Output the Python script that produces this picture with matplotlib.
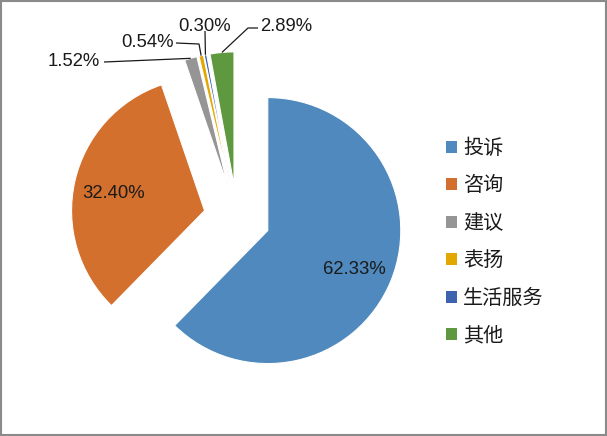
import matplotlib
matplotlib.use("Agg")
import matplotlib.pyplot as plt
from matplotlib.patches import Rectangle
import numpy as np

categories = ["投诉", "咨询", "建议", "表扬", "生活服务", "其他"]
values = [62.33, 32.40, 1.52, 0.54, 0.30, 2.89]
pct_labels = ["62.33%", "32.40%", "1.52%", "0.54%", "0.30%", "2.89%"]
colors = ["#4F89BD", "#D4702D", "#959595", "#E2A700", "#3D63AE", "#5F993F"]

W, H, DPI = 607, 436, 100
fig = plt.figure(figsize=(W / DPI, H / DPI), dpi=DPI)
fig.patch.set_facecolor("white")

R = 133.0  # px per data unit
cx, cy = 237.0, 218.0
ax = fig.add_axes([0, 0, 1, 1])

explode = [0.25] * len(values)
wedges, _ = ax.pie(values, explode=explode, colors=colors, startangle=90,
                   counterclock=False, radius=1.0,
                   wedgeprops=dict(edgecolor="white", linewidth=0.8))
ax.set_aspect("auto")
ax.set_xlim(-cx / R, (W - cx) / R)
ax.set_ylim(-(H - cy) / R, cy / R)
ax.axis("off")

pct_font = dict(family=["Liberation Sans", "DejaVu Sans"], fontsize=13.3, color="#1a1a1a")
dy_txt = -3.5 / R  # visual centering offset

def mid_dir(w):
    a = np.deg2rad((w.theta1 + w.theta2) / 2)
    return np.cos(a), np.sin(a)

def px(x, y):
    return ((x - cx) / R, (cy - y) / R)

# inside labels for large slices
for i in (0, 1):
    dx, dy = mid_dir(wedges[i])
    ox, oy = wedges[i].center
    ax.text(ox + 0.7 * dx, oy + 0.7 * dy + dy_txt, pct_labels[i],
            ha="center", va="center", **pct_font)

# outside labels with leader lines (text positions & elbow points are layout)
layout = {
    2: dict(text=(74, 58), path=[(104, 62)]),
    3: dict(text=(147, 39), path=[(176, 43), (199, 44)]),
    4: dict(text=(205, 23), path=[(205, 31)]),
    5: dict(text=(286, 23), path=[(258, 28), (248, 28)]),
}
for i, lay in layout.items():
    dx, dy = mid_dir(wedges[i])
    ox, oy = wedges[i].center
    edge = (ox + 1.0 * dx, oy + 1.0 * dy)
    pts = [px(*p) for p in lay["path"]] + [edge]
    xs, ys = zip(*pts)
    ax.plot(xs, ys, color="#1a1a1a", lw=0.9, solid_capstyle="butt")
    tx, ty = px(*lay["text"])
    ax.text(tx, ty + dy_txt, pct_labels[i], ha="center", va="center", **pct_font)

leg = fig.legend(wedges, categories, loc="center left",
                 bbox_to_anchor=(446 / W, 1 - 242 / H), frameon=False,
                 prop=dict(family=["Noto Sans CJK SC", "DejaVu Sans"], size=14.5),
                 handlelength=0.55, handleheight=0.55, handletextpad=0.3,
                 labelspacing=0.82, borderpad=0, borderaxespad=0)
for t in leg.get_texts():
    t.set_color("#1a1a1a")
for h in leg.legend_handles:
    h.set_edgecolor("none")

fig.patches.append(Rectangle((0.5 / W, 1.5 / H), (W - 2) / W, (H - 3) / H,
                             transform=fig.transFigure, fill=False,
                             edgecolor="#8a8a8a", lw=1.5))

fig.savefig("out.png", dpi=DPI)
